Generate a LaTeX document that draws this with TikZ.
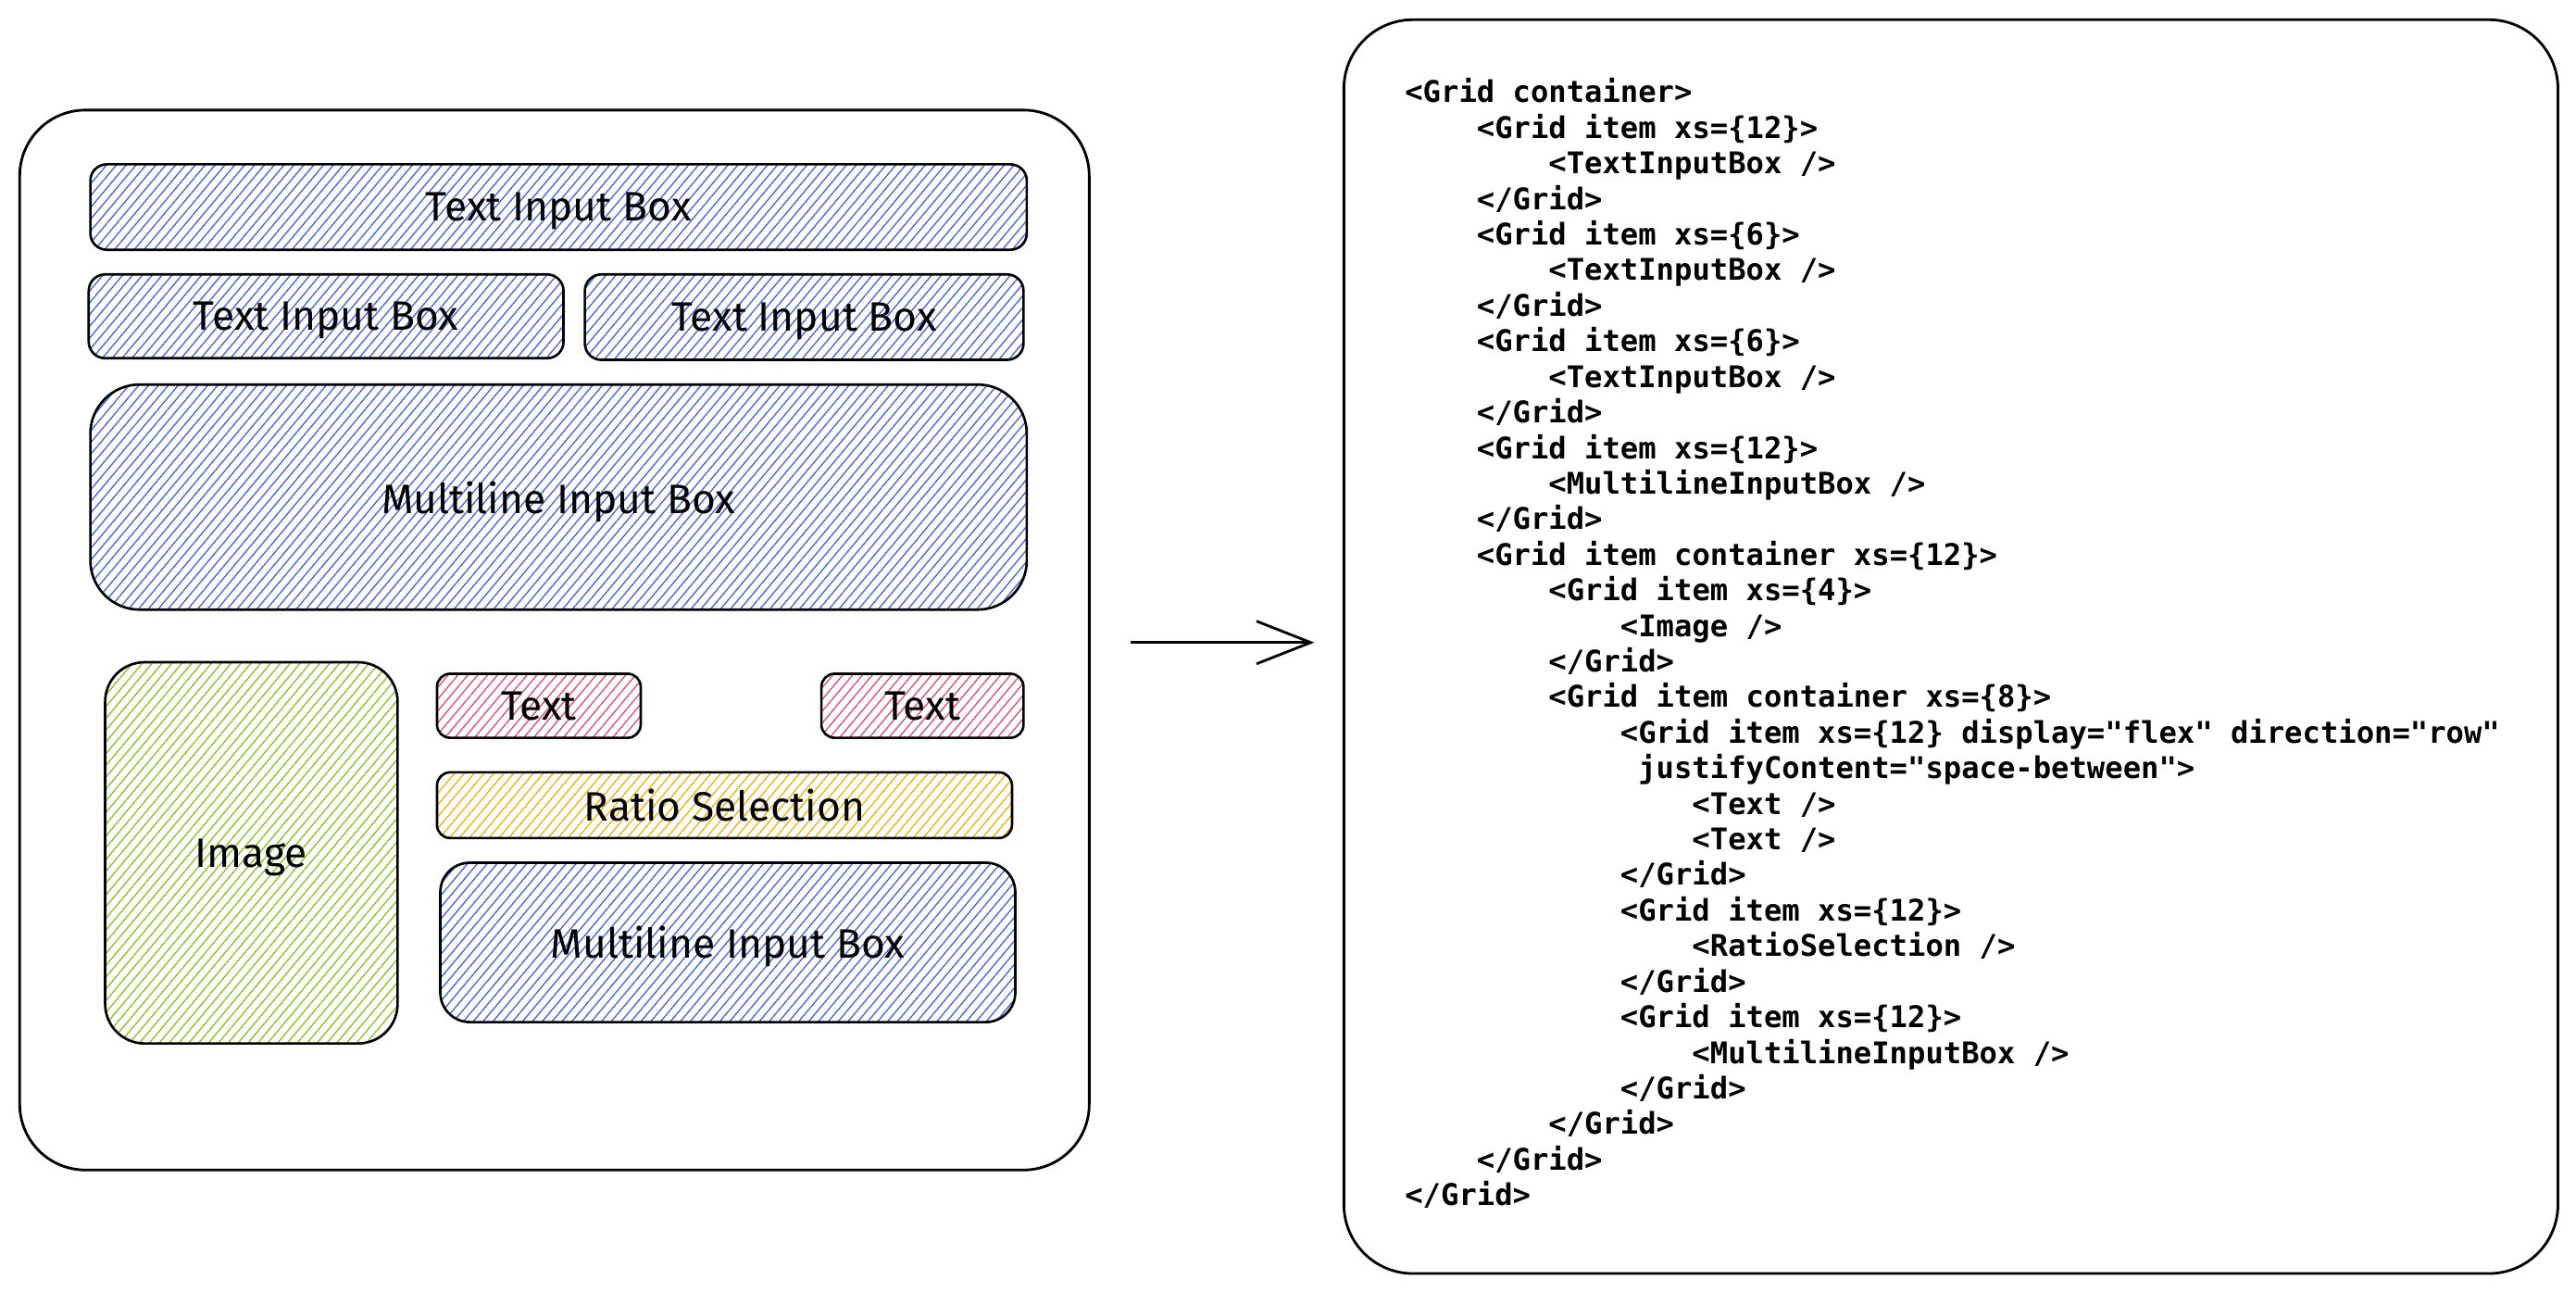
\documentclass[tikz,border=0pt]{standalone}
\usepackage{fontspec}
\setmainfont{Fira Sans}
\newfontfamily\codefont{DejaVu Sans Mono}
\usetikzlibrary{patterns.meta,arrows.meta}
\definecolor{hblue}{HTML}{4263EB}
\definecolor{hgreen}{HTML}{82C91E}
\definecolor{hpink}{HTML}{E64980}
\definecolor{horange}{HTML}{FAB005}
\tikzset{
  frame/.style={draw=black, line width=1.6pt},
  boxbase/.style={draw=black, line width=1.5pt, inner sep=0pt, text depth=0pt,
    font=\fontsize{25}{28}\selectfont},
  hatch/.style={pattern={Lines[angle=50,distance=4.6pt,line width=0.75pt]}},
  hblueb/.style={boxbase, hatch, pattern color=hblue},
  hgreenb/.style={boxbase, hatch, pattern color=hgreen},
  hpinkb/.style={boxbase, hatch, pattern color=hpink},
  horangeb/.style={boxbase, hatch, pattern color=horange},
  code/.style={anchor=base west, inner sep=0pt, font=\codefont\bfseries\fontsize{18.15}{21}\selectfont},
}
\newcommand{\cl}[4]{\node[code] (#1) at ({855+43.7*#3},{62.5+21.65*#2}) {#4};}
\begin{document}
\begin{tikzpicture}[x=1pt,y=-1pt]
\useasboundingbox[fill=white] (0,0) rectangle (1568,786);
% left frame
\node[frame, rounded corners=40pt, minimum width=651pt, minimum height=645pt, inner sep=0pt] (outer) at (337.5,389.5) {};
% boxes
\node[hblueb, rounded corners=10pt, minimum width=570pt, minimum height=52pt] (tib1) at (340,126) {Text Input Box};
\node[hblueb, rounded corners=10pt, minimum width=289pt, minimum height=51pt] (tib2) at (198.5,192.5) {Text Input Box};
\node[hblueb, rounded corners=10pt, minimum width=267pt, minimum height=52pt] (tib3) at (489.5,193) {Text Input Box};
\node[hblueb, rounded corners=30pt, minimum width=570pt, minimum height=137pt] (mib1) at (340,302.5) {Multiline Input Box};
\node[hgreenb, rounded corners=24pt, minimum width=178pt, minimum height=232pt] (img) at (153,519) {Image};
\node[hpinkb, rounded corners=8pt, minimum width=124pt, minimum height=39pt] (txt1) at (328,429.5) {Text};
\node[hpinkb, rounded corners=8pt, minimum width=123pt, minimum height=39pt] (txt2) at (561.5,429.5) {Text};
\node[horangeb, rounded corners=8pt, minimum width=350pt, minimum height=40pt] (ratio) at (441,490) {Ratio Selection};
\node[hblueb, rounded corners=18pt, minimum width=350pt, minimum height=97pt] (mib2) at (443,573.5) {Multiline Input Box};
% arrow
\coordinate (a1) at (688,391);
\coordinate (a2) at (800,391);
\draw[line width=1.6pt, -{Straight Barb[length=33pt,width=26pt,line width=1.6pt]}] (a1) -- (a2);
% right frame
\node[frame, rounded corners=42pt, minimum width=739pt, minimum height=763pt, inner sep=0pt] (codebox) at (1187.5,393.5) {};
% code
\cl{c1}{0}{0}{<Grid container>}
\cl{c2}{1}{1}{<Grid item xs=\{12\}>}
\cl{c3}{2}{2}{<TextInputBox />}
\cl{c4}{3}{1}{</Grid>}
\cl{c5}{4}{1}{<Grid item xs=\{6\}>}
\cl{c6}{5}{2}{<TextInputBox />}
\cl{c7}{6}{1}{</Grid>}
\cl{c8}{7}{1}{<Grid item xs=\{6\}>}
\cl{c9}{8}{2}{<TextInputBox />}
\cl{c10}{9}{1}{</Grid>}
\cl{c11}{10}{1}{<Grid item xs=\{12\}>}
\cl{c12}{11}{2}{<MultilineInputBox />}
\cl{c13}{12}{1}{</Grid>}
\cl{c14}{13}{1}{<Grid item container xs=\{12\}>}
\cl{c15}{14}{2}{<Grid item xs=\{4\}>}
\cl{c16}{15}{3}{<Image />}
\cl{c17}{16}{2}{</Grid>}
\cl{c18}{17}{2}{<Grid item container xs=\{8\}>}
\cl{c19}{18}{3}{<Grid item xs=\{12\} display="flex" direction="row"}
\cl{c20}{19}{3.25}{justifyContent="space-between">}
\cl{c21}{20}{4}{<Text />}
\cl{c22}{21}{4}{<Text />}
\cl{c23}{22}{3}{</Grid>}
\cl{c24}{23}{3}{<Grid item xs=\{12\}>}
\cl{c25}{24}{4}{<RatioSelection />}
\cl{c26}{25}{3}{</Grid>}
\cl{c27}{26}{3}{<Grid item xs=\{12\}>}
\cl{c28}{27}{4}{<MultilineInputBox />}
\cl{c29}{28}{3}{</Grid>}
\cl{c30}{29}{2}{</Grid>}
\cl{c31}{30}{1}{</Grid>}
\cl{c32}{31}{0}{</Grid>}
\end{tikzpicture}
\end{document}
